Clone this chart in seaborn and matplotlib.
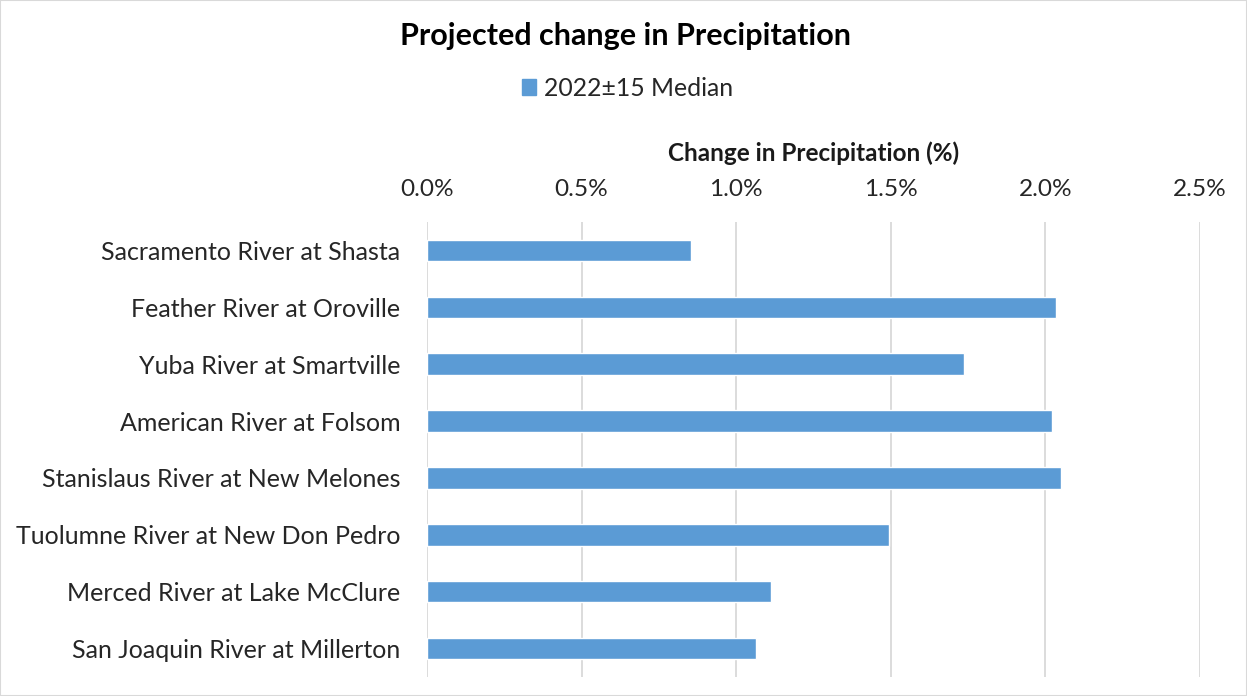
import matplotlib
matplotlib.use("Agg")
from matplotlib import pyplot as plt
from matplotlib.patches import Patch
from matplotlib.ticker import FuncFormatter
import pandas as pd
import seaborn as sns

rivers = ["Sacramento River at Shasta", "Feather River at Oroville",
          "Yuba River at Smartville", "American River at Folsom",
          "Stanislaus River at New Melones", "Tuolumne River at New Don Pedro",
          "Merced River at Lake McClure", "San Joaquin River at Millerton"]
median_change = [0.855, 2.033, 1.737, 2.022, 2.052, 1.494, 1.112, 1.063]
series_name = "2022±15 Median"

df = pd.DataFrame({"River": rivers, "Change": median_change})

sns.set_theme(style="white")
plt.rcParams['font.family'] = ['Lato', 'DejaVu Sans']

fig = plt.figure(figsize=(12.47, 6.96), dpi=100)
ax = fig.add_axes([427/1247, 1 - 677/696, (1200-427)/1247, (677-222)/696])

sns.barplot(data=df, x="Change", y="River", orient="h", color="#5B9BD5",
            saturation=1, width=0.38, ax=ax)

ax.set_xlim(0, 2.5)
ax.set_xticks([0, 0.5, 1.0, 1.5, 2.0, 2.5])
ax.xaxis.set_major_formatter(FuncFormatter(lambda v, p: f"{v:.1f}%"))
ax.xaxis.tick_top()
ax.xaxis.set_label_position("top")
ax.set_xlabel("Change in Precipitation (%)", fontsize=17.5, fontweight="bold",
              color="#1a1a1a", labelpad=13)
ax.set_ylabel("")
ax.tick_params(axis="x", labelsize=17.6, colors="#262626", length=0, pad=16)
ax.tick_params(axis="y", labelsize=18, colors="#262626", length=0, pad=19)
ax.grid(axis="x", color="#d9d9d9", linewidth=1.3)
ax.set_axisbelow(True)
for s in ax.spines.values():
    s.set_visible(False)

fig.text(0.502, 1 - 36/696, "Projected change in Precipitation", ha="center", va="center",
         fontsize=22, fontweight="bold", color="#000000")
fig.legend(handles=[Patch(color="#5B9BD5", label=series_name)], loc="center",
           bbox_to_anchor=(0.503, 1 - 88/696), frameon=False, fontsize=17.8,
           handlelength=0.6, handleheight=0.6, handletextpad=0.3)

fig.patches.append(plt.Rectangle((0, 0), 1, 1, transform=fig.transFigure, fill=False,
                                 edgecolor="#d9d9d9", linewidth=1.5))

fig.savefig("out.png", dpi=100)
